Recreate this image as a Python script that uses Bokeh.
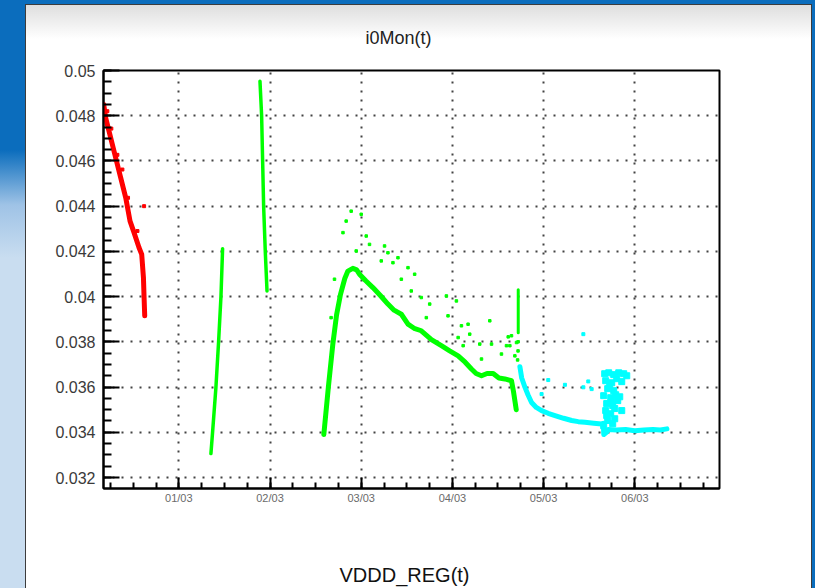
from bokeh.plotting import figure
from bokeh.models import FixedTicker, Title
from bokeh.embed import file_html
from bokeh.resources import INLINE
import numpy as np

# ---- axis definitions ----
x_ticks = [1, 2, 3, 4, 5, 6]
x_tick_labels = ["01/03", "02/03", "03/03", "04/03", "05/03", "06/03"]
y_ticks = [0.032, 0.034, 0.036, 0.038, 0.040, 0.042, 0.044, 0.046, 0.048, 0.050]
y_tick_labels = ["0.032", "0.034", "0.036", "0.038", "0.04", "0.042", "0.044", "0.046", "0.048", "0.05"]

# ---- data (x: day of March, fractional) ----
red_x = [0.176, 0.198, 0.253, 0.308, 0.363, 0.418, 0.465, 0.509, 0.564, 0.593, 0.612, 0.619, 0.626]
red_y = [0.0485, 0.0479, 0.04702, 0.04613, 0.04525, 0.04437, 0.04334, 0.04283, 0.04216, 0.04187, 0.04084, 0.03996, 0.03915]
red_out_x = [0.619, 0.326, 0.381, 0.260, 0.443, 0.546, 0.216]
red_out_y = [0.0440, 0.04627, 0.04562, 0.04743, 0.04437, 0.0429, 0.0482]

g1_x = [1.352, 1.370, 1.407, 1.436, 1.462, 1.480]
g1_y = [0.03306, 0.0340, 0.0360, 0.0380, 0.0400, 0.04212]
g2_x = [1.890, 1.908, 1.919, 1.930, 1.948, 1.967]
g2_y = [0.04952, 0.0480, 0.0460, 0.0440, 0.0420, 0.04025]
g3_x = [2.590, 2.640, 2.689, 2.730, 2.773, 2.820, 2.854, 2.908, 2.950, 2.981, 3.050, 3.128,
        3.210, 3.293, 3.360, 3.440, 3.513, 3.580, 3.659, 3.770, 3.879, 3.970, 4.063, 4.140,
        4.209, 4.260, 4.319, 4.380, 4.447, 4.510, 4.575, 4.648, 4.670, 4.700]
g3_y = [0.0339, 0.0360, 0.0379, 0.0392, 0.0401, 0.0408, 0.04113, 0.04125, 0.04118, 0.04099, 0.0407, 0.0404,
        0.04005, 0.03967, 0.0394, 0.03922, 0.03878, 0.0386, 0.03849, 0.0381, 0.03783, 0.0376, 0.03738, 0.0371,
        0.0368, 0.0366, 0.0365, 0.0366, 0.0366, 0.0364, 0.03636, 0.03628, 0.0358, 0.0350]
g4_x = [4.722, 4.722]
g4_y = [0.0403, 0.0384]
green_out_x = [2.890, 2.800, 2.835, 3.000, 2.945, 3.055, 3.091, 3.256, 3.220, 3.348, 3.403, 3.440,
               3.513, 3.586, 3.549, 3.659, 3.751, 3.714, 3.934, 4.044, 3.952, 4.099, 4.172, 4.063,
               4.190, 4.118, 4.300, 4.410, 4.429, 4.319, 4.538, 4.612, 4.630, 2.707, 2.670, 3.293,
               4.593, 4.648, 4.685, 4.703, 4.720, 4.720, 4.715]
green_out_y = [0.04378, 0.04283, 0.04334, 0.04364, 0.04202, 0.04268, 0.04231, 0.04224, 0.04158, 0.0415, 0.04172, 0.04077,
               0.04128, 0.04099, 0.04025, 0.03996, 0.03967, 0.03907, 0.04003, 0.03981, 0.03915, 0.03871, 0.03878, 0.03819,
               0.03834, 0.03783, 0.0379, 0.03893, 0.0379, 0.03724, 0.03746, 0.03822, 0.03783, 0.04077, 0.03907, 0.04194,
               0.03783, 0.03827, 0.03738, 0.03797, 0.0380, 0.0376, 0.0372]

cyan_x = [4.740, 4.760, 4.795, 4.830, 4.868, 4.920, 4.978, 5.050, 5.125, 5.220, 5.308, 5.380,
          5.454, 5.550, 5.637, 5.655, 5.660, 5.690, 5.710, 5.800, 5.900, 6.000, 6.100, 6.200, 6.280, 6.352]
cyan_y = [0.0369, 0.0364, 0.0360, 0.03565, 0.03532, 0.0351, 0.03496, 0.03484, 0.03474, 0.03462, 0.03452, 0.03447,
          0.03444, 0.0344, 0.03437, 0.0344, 0.0339, 0.0340, 0.03412, 0.0341, 0.03412, 0.03407, 0.0341, 0.03412, 0.0341, 0.03415]
cyan_out_x = [5.436, 5.051, 5.234, 5.490, 4.978, 5.436, 5.527]
cyan_out_y = [0.03834, 0.03631, 0.0361, 0.03625, 0.03569, 0.03599, 0.03591]
cyan_blob_x = [5.670, 5.714, 5.769, 5.824, 5.879, 5.912, 5.681, 5.747, 5.802, 5.857, 5.703, 5.769, 5.659,
               5.736, 5.791, 5.692, 5.758, 5.813, 5.857, 5.681, 5.736, 5.780, 5.703, 5.758, 5.659, 5.835,
               5.725, 5.780, 5.692, 5.747]
cyan_blob_y = [0.03659, 0.03663, 0.03655, 0.03663, 0.03659, 0.0365, 0.03628, 0.03619, 0.03637, 0.03624, 0.03593, 0.03584, 0.03562,
               0.03553, 0.03566, 0.03527, 0.03518, 0.0354, 0.03496, 0.03496, 0.03482, 0.0346, 0.03452, 0.03438, 0.03429, 0.03557,
               0.0361, 0.03505, 0.03474, 0.03544]

FONT = "Liberation Sans"

p = figure(width=815, height=588, x_range=(0.174, 6.929), y_range=(0.031514, 0.050),
           toolbar_location=None, output_backend="svg",
           min_border_left=103, min_border_right=96, min_border_top=70, min_border_bottom=100)

p.border_fill_color = None
p.background_fill_color = "white"
p.outline_line_color = "black"
p.outline_line_width = 2
p.styles = {
    "background": (
        "linear-gradient(#dedede, #ffffff) 26px 5px / 785px 34px no-repeat, "
        "linear-gradient(#ffffff, #ffffff) 26px 5px / 785px 583px no-repeat, "
        "linear-gradient(#3c3c3c, #3c3c3c) 25px 4px / 787px 584px no-repeat, "
        "linear-gradient(to bottom, #0b6dbd 0px, #0b6dbd 150px, #9fc3e6 205px, #c9ddf0 258px, #c9ddf0 588px) 0px 0px / 25px 588px no-repeat, "
        "#0b6dbd"
    )
}

# axes
p.xaxis.ticker = FixedTicker(ticks=x_ticks, minor_ticks=list(np.arange(0.25, 6.9, 0.25)))
p.xaxis.major_label_overrides = {t: l for t, l in zip(x_ticks, x_tick_labels)}
p.yaxis.ticker = FixedTicker(ticks=y_ticks, minor_ticks=list(np.round(np.arange(0.032, 0.0501, 0.0005), 5)))
p.yaxis.major_label_overrides = {t: l for t, l in zip(y_ticks, y_tick_labels)}

for ax in (p.xaxis[0], p.yaxis[0]):
    ax.axis_line_color = "black"
    ax.axis_line_width = 2
    ax.major_tick_line_color = "black"
    ax.minor_tick_line_color = "black"
    ax.major_tick_line_width = 2
    ax.minor_tick_line_width = 2
    ax.major_tick_out = 0
    ax.minor_tick_out = 0
    ax.major_label_text_font = FONT

p.yaxis.major_tick_in = 16
p.yaxis.minor_tick_in = 8
p.yaxis.major_label_standoff = 8
p.yaxis.major_label_text_font_size = "16px"
p.yaxis.major_label_text_color = "#3a3a3a"

p.xaxis.major_tick_in = 11
p.xaxis.minor_tick_in = 6
p.xaxis.major_label_standoff = 3
p.xaxis.major_label_text_font_size = "11px"
p.xaxis.major_label_text_color = "#6a6a6a"

for g in (p.xgrid[0], p.ygrid[0]):
    g.grid_line_color = "#222222"
    g.grid_line_width = 2
    g.grid_line_dash = "2 7"
    g.grid_line_alpha = 0.85

# data
p.line(red_x, red_y, line_color="#ff0000", line_width=5, line_join="round", line_cap="round")
p.scatter(red_out_x, red_out_y, marker="square", size=3, color="#ff0000")

for gx, gy, w in ((g1_x, g1_y, 3.5), (g2_x, g2_y, 3.5), (g3_x, g3_y, 5), (g4_x, g4_y, 3)):
    p.line(gx, gy, line_color="#00ff00", line_width=w, line_join="round", line_cap="round")
p.scatter(green_out_x, green_out_y, marker="square", size=2.5, color="#00ff00")

p.line(cyan_x, cyan_y, line_color="#00ffff", line_width=5, line_join="round", line_cap="round")
p.scatter(cyan_out_x, cyan_out_y, marker="square", size=3, color="#00ffff")
p.scatter(cyan_blob_x, cyan_blob_y, marker="square", size=6, color="#00ffff")

# titles as layout panels
p.add_layout(Title(text="i0Mon(t)", align="left", offset=262, standoff=46,
                   text_font=FONT, text_font_size="18px", text_font_style="normal",
                   text_color="#222222"), "above")
p.add_layout(Title(text="\n\nVDDD_REG(t)", align="left", offset=236, standoff=2,
                   vertical_align="bottom", text_line_height=1.24,
                   text_font=FONT, text_font_size="20px", text_font_style="normal",
                   text_color="#111111"), "below")

open("out.html", "w").write(file_html(p, INLINE))
